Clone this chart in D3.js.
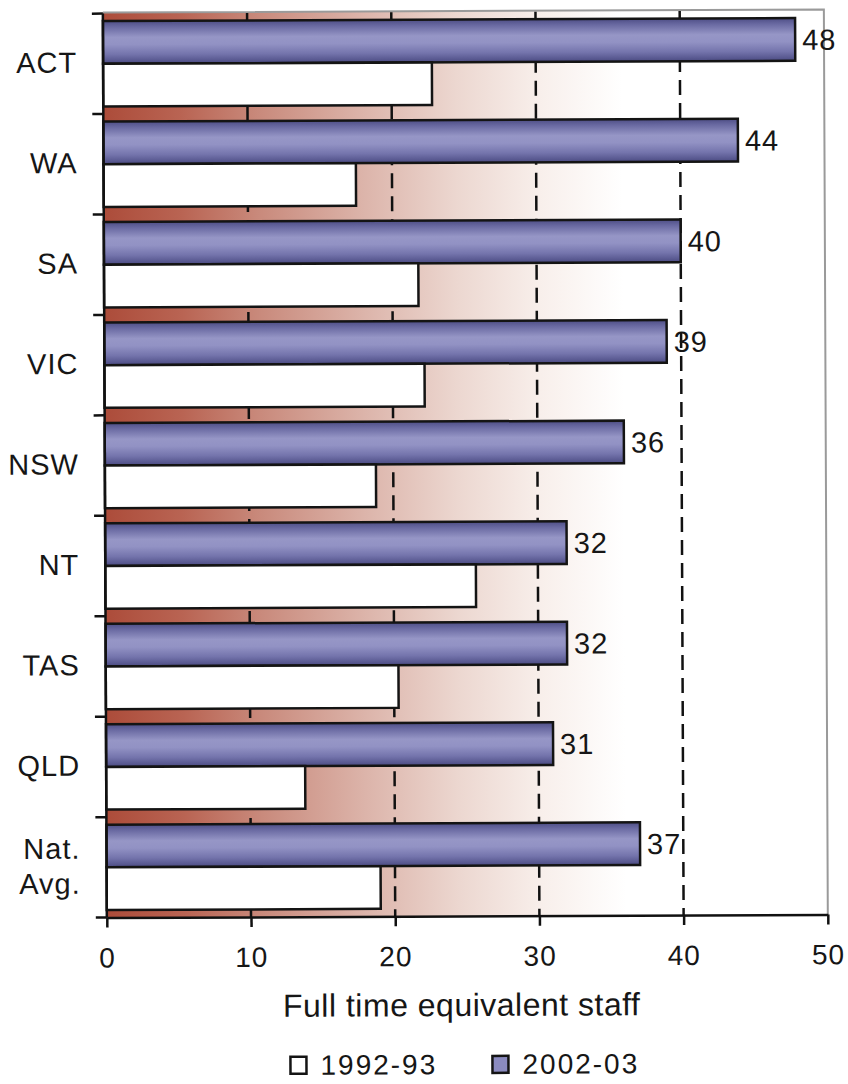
<!DOCTYPE html>
<html>
<head>
<meta charset="utf-8">
<script src="https://cdn.jsdelivr.net/npm/d3@7"></script>
<style>
  html, body { margin: 0; padding: 0; background: #fff; }
  svg { display: block; }
  text { font-family: "Liberation Sans", Arial, sans-serif; fill: #161616; }
</style>
</head>
<body>
<svg id="chart" width="848" height="1084"></svg>
<script>
// Staff numbers per jurisdiction (full time equivalent)
const categories = ["ACT", "WA", "SA", "VIC", "NSW", "NT", "TAS", "QLD", "Nat.\nAvg."];
const staff1992 = [22.8, 17.5, 21.8, 22.2, 18.8, 25.7, 20.3, 13.8, 19.0];
const staff2002 = [48, 44, 40, 39, 36, 32, 32, 31, 37];
const seriesNames = ["1992-93", "2002-03"];
const xTicks = [0, 10, 20, 30, 40, 50];
const gridValues = [10, 20, 30, 40];
const axisTitle = "Full time equivalent staff";

const rows = categories.map((c, i) => ({
  cat: c,
  values: [
    { series: "2002-03", value: staff2002[i] },
    { series: "1992-93", value: staff1992[i] }
  ]
}));

const svg = d3.select("#chart");
const defs = svg.append("defs");

// Plot-area background: brick red fading to white
const bg = defs.append("linearGradient").attr("id", "bgFade")
  .attr("gradientUnits", "userSpaceOnUse");
// Cylinder shading for the 2002-03 bars
const blue = defs.append("linearGradient").attr("id", "blueBar")
  .attr("x1", 0).attr("y1", 0).attr("x2", 0).attr("y2", 1);
[[0, "#4e4e86"], [0.14, "#6a6aa2"], [0.38, "#9696c6"], [0.55, "#9292c4"],
 [0.78, "#7474ac"], [0.92, "#5a5a92"], [1, "#4a4a80"]]
  .forEach(([o, c]) => blue.append("stop").attr("offset", o).attr("stop-color", c));

const plotTop = 12, plotBottom = 916;
const x = d3.scaleLinear().domain([0, 50]).range([105, 826]);
const y = d3.scaleBand().domain(categories).range([plotTop, plotBottom])
  .paddingInner(0.15).paddingOuter(0.075);
const ySub = d3.scaleBand().domain(["2002-03", "1992-93"]).range([0, y.bandwidth()]);

bg.attr("x1", x(0)).attr("y1", 0).attr("x2", x(36)).attr("y2", 0);
[[0, "#ac4c3a"], [0.15, "#b96453"], [0.3, "#c98a7c"], [0.5, "#dcb4aa"],
 [0.68, "#ecd7d0"], [0.84, "#f8efeb"], [1, "#ffffff"]]
  .forEach(([o, c]) => bg.append("stop").attr("offset", o).attr("stop-color", c));

// whole figure sits very slightly tilted
const g = svg.append("g").attr("transform", "rotate(-0.25, 467, 500)");

// background and frame
g.append("rect")
  .attr("x", x(0)).attr("y", plotTop - 1)
  .attr("width", x(50) - x(0)).attr("height", plotBottom - plotTop + 1)
  .attr("fill", "url(#bgFade)");
g.append("path")
  .attr("d", `M${x(0)},${plotTop - 1}H${x(50)}V${plotBottom}`)
  .attr("fill", "none").attr("stroke", "#9a9a9a").attr("stroke-width", 2);

// dashed gridlines
g.selectAll("line.grid").data(gridValues).join("line")
  .attr("class", "grid")
  .attr("x1", d => x(d)).attr("x2", d => x(d))
  .attr("y1", plotTop).attr("y2", plotBottom)
  .attr("stroke", "#111").attr("stroke-width", 2.5)
  .attr("stroke-dasharray", "15,8");

// bars
const groups = g.selectAll("g.row").data(rows).join("g")
  .attr("class", "row")
  .attr("transform", d => `translate(0,${y(d.cat)})`);
groups.selectAll("rect").data(d => d.values).join("rect")
  .attr("x", x(0))
  .attr("y", d => ySub(d.series))
  .attr("width", d => x(d.value) - x(0))
  .attr("height", ySub.bandwidth())
  .attr("fill", d => d.series === "2002-03" ? "url(#blueBar)" : "#ffffff")
  .attr("stroke", "#141414").attr("stroke-width", 2.5);

// value labels on the 2002-03 bars
groups.append("text")
  .attr("x", d => x(d.values[0].value) + 7)
  .attr("y", ySub("2002-03") + ySub.bandwidth() / 2)
  .attr("dy", "0.36em")
  .attr("font-size", 29).attr("letter-spacing", 1)
  .text(d => d3.format("d")(d.values[0].value));

// x axis
const xAxis = g.append("g")
  .attr("transform", `translate(0,${plotBottom})`)
  .call(d3.axisBottom(x).tickValues(xTicks).tickSize(10).tickPadding(20).tickSizeOuter(0));
xAxis.select(".domain").attr("stroke", "#111").attr("stroke-width", 2.5);
xAxis.selectAll(".tick line").attr("stroke", "#111").attr("stroke-width", 2.5);
xAxis.selectAll(".tick text")
  .attr("font-size", 28).attr("letter-spacing", 1)
  .attr("font-family", "Liberation Sans, Arial, sans-serif").attr("fill", "#161616");

// y axis line and boundary ticks
const step = y.step();
const boundaries = categories.map(c => y(c) - step * y.paddingInner() / 2)
  .concat([y(categories[categories.length - 1]) + y.bandwidth() + step * y.paddingInner() / 2]);
g.append("line")
  .attr("x1", x(0)).attr("x2", x(0)).attr("y1", plotTop).attr("y2", plotBottom)
  .attr("stroke", "#111").attr("stroke-width", 2.5);
g.selectAll("line.ytick").data(boundaries).join("line")
  .attr("class", "ytick")
  .attr("x1", x(0) - 11).attr("x2", x(0))
  .attr("y1", d => d).attr("y2", d => d)
  .attr("stroke", "#111").attr("stroke-width", 2.5);

// category labels
const catLabels = g.selectAll("text.cat").data(categories).join("text")
  .attr("class", "cat")
  .attr("text-anchor", "end")
  .attr("font-size", 29)
  .attr("letter-spacing", 1);
catLabels.each(function (c) {
  const lines = c.split("\n");
  const cy = y(c) + y.bandwidth() / 2;
  const lh = 35;
  const t = d3.select(this);
  lines.forEach((ln, i) => {
    t.append("tspan")
      .attr("x", 79)
      .attr("y", cy + (i - (lines.length - 1) / 2) * lh)
      .attr("dy", "0.3em")
      .text(ln);
  });
});

// axis title
g.append("text")
  .attr("x", (x(0) + x(50)) / 2 - 6).attr("y", 1016)
  .attr("text-anchor", "middle")
  .attr("font-size", 32).attr("letter-spacing", 0.5)
  .text(axisTitle);

// legend
const legendX = [288, 490];
const legend = g.selectAll("g.legend").data(seriesNames).join("g")
  .attr("class", "legend")
  .attr("transform", (d, i) => `translate(${legendX[i]},1056)`);
legend.append("rect")
  .attr("width", 16).attr("height", 17)
  .attr("fill", d => d === "2002-03" ? "#8a8abf" : "#ffffff")
  .attr("stroke", "#141414").attr("stroke-width", 2.5);
legend.append("text")
  .attr("x", 30).attr("y", 18)
  .attr("font-size", 28).attr("letter-spacing", 2)
  .text(d => d);
</script>
</body>
</html>
